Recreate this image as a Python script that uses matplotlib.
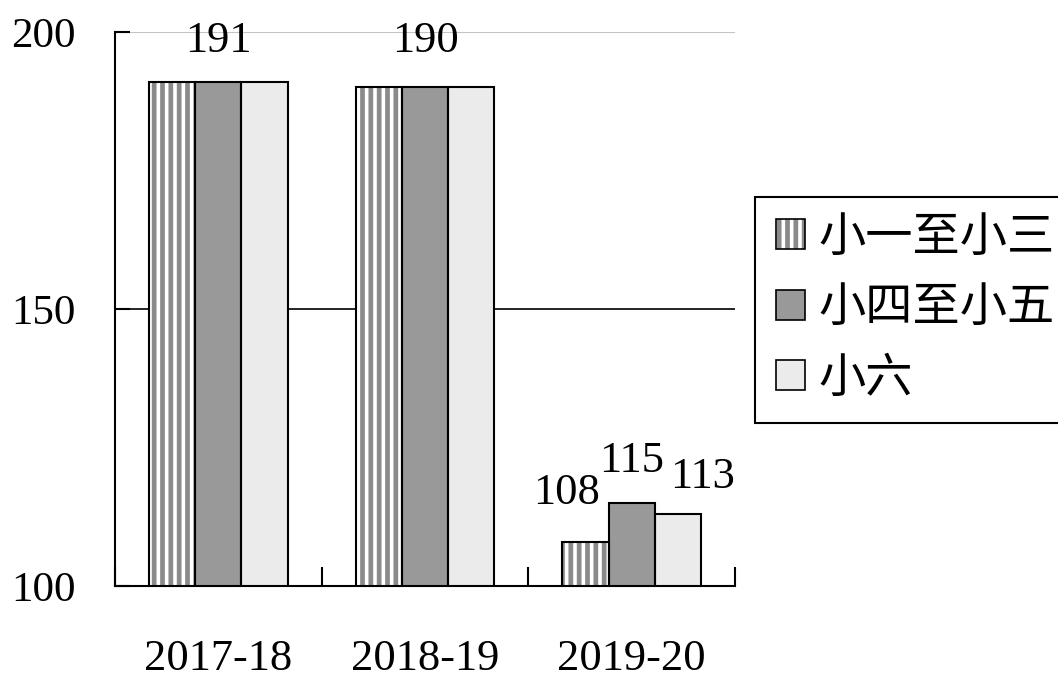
import matplotlib
matplotlib.use('Agg')
import matplotlib.pyplot as plt
import numpy as np
from matplotlib.patches import Patch
from matplotlib.legend_handler import HandlerTuple

# data
anos = ['2017-18', '2018-19', '2019-20']
series = ['小一至小三', '小四至小五', '小六']
valores = [
    [191, 190, 108],
    [191, 190, 115],
    [191, 190, 113],
]
# which bars carry a value label (group, series) and where the label sits (px)
etiquetas = [(0, 1), (1, 1), (2, 0), (2, 1), (2, 2)]
desplaz = [(0, 30), (0, 35), (-19, 38), (0, 31), (25, 26)]

colores = ['white', '#999999', '#ebebeb']
tramas = ['||', '', '']

plt.rcParams['font.family'] = ['Liberation Serif', 'Noto Sans CJK TC']
plt.rcParams['hatch.linewidth'] = 3.4

fig = plt.figure(figsize=(10.58, 6.87), dpi=100)
ax = fig.add_axes([115/1058, 1-586/687, 620/1058, 554/687])

x = np.arange(len(anos))
ancho = 0.224
handles = []
for i, nombre in enumerate(series):
    pos = x + (i - 1) * ancho
    alto = [v - 100 for v in valores[i]]
    ax.bar(pos, alto, ancho, bottom=100, color=colores[i], edgecolor='#8a8a8a',
           hatch=tramas[i], linewidth=0, zorder=3)
    ax.bar(pos, alto, ancho, bottom=100, fill=False, edgecolor='black',
           linewidth=1.5, zorder=4)
    h1 = Patch(facecolor=colores[i], edgecolor='#8a8a8a', hatch=tramas[i], linewidth=0)
    h2 = Patch(fill=False, edgecolor='black', linewidth=1.2)
    handles.append((h1, h2))

for (g, s), (dx, dy) in zip(etiquetas, desplaz):
    v = valores[s][g]
    ax.annotate(str(v), (x[g] + (s - 1) * ancho, v), xytext=(dx * 0.72, dy * 0.72),
                textcoords='offset points', ha='center', va='baseline', fontsize=32)

ax.axhline(150, color='black', linewidth=1.2, zorder=1)
ax.axhline(200, color='#c4c4c4', linewidth=1.5, zorder=1)

ax.set_xlim(-0.5, 2.5)
ax.set_ylim(100, 200)
ax.set_yticks([100, 150, 200])
ax.tick_params(axis='y', direction='in', length=11, width=1.5, labelsize=31, pad=28)
ax.set_xticks(x)
ax.set_xticklabels(anos)
ax.tick_params(axis='x', which='major', length=0, labelsize=32, pad=38)
ax.set_xticks([-0.5, 0.5, 1.5, 2.5], minor=True)
ax.tick_params(axis='x', which='minor', direction='in', length=14, width=1.5)

for lado in ['top', 'right']:
    ax.spines[lado].set_visible(False)
for lado in ['left', 'bottom']:
    ax.spines[lado].set_linewidth(1.5)

leg = fig.legend(handles, series,
                 handler_map={tuple: HandlerTuple(ndivide=1, pad=0)},
                 loc='upper left', bbox_to_anchor=(755/1058, 1-197/687),
                 fontsize=34, fancybox=False, edgecolor='black', framealpha=1,
                 handlelength=0.6, handleheight=0.6, handletextpad=0.3,
                 labelspacing=0.58, borderpad=0.45, borderaxespad=0)
leg.get_frame().set_linewidth(1.5)

fig.savefig('out.png', dpi=100)
